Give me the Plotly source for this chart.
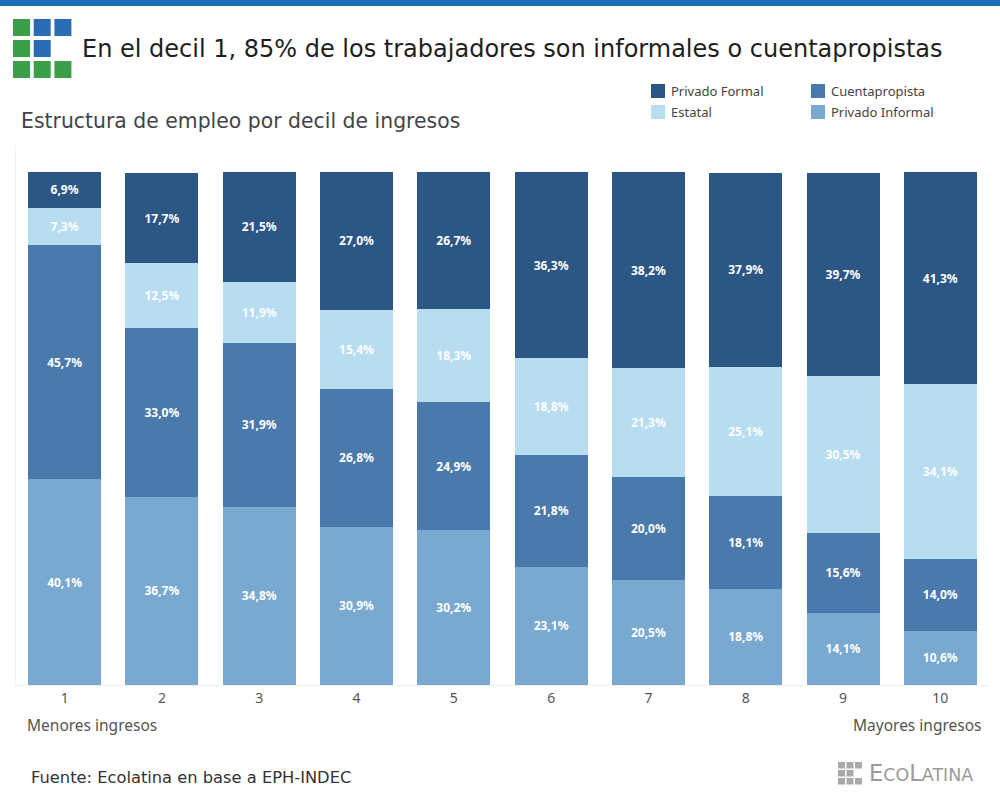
import plotly.graph_objects as go

deciles = ["1", "2", "3", "4", "5", "6", "7", "8", "9", "10"]
privado_informal = [40.1, 36.7, 34.8, 30.9, 30.2, 23.1, 20.5, 18.8, 14.1, 10.6]
cuentapropista = [45.7, 33.0, 31.9, 26.8, 24.9, 21.8, 20.0, 18.1, 15.6, 14.0]
estatal = [7.3, 12.5, 11.9, 15.4, 18.3, 18.8, 21.3, 25.1, 30.5, 34.1]
privado_formal = [6.9, 17.7, 21.5, 27.0, 26.7, 36.3, 38.2, 37.9, 39.7, 41.3]

series = [
    ("Privado Informal", privado_informal, "#79a9d0"),
    ("Cuentapropista", cuentapropista, "#4a7aab"),
    ("Estatal", estatal, "#b8dcf0"),
    ("Privado Formal", privado_formal, "#2c5784"),
]

FONT = "Noto Sans"
WIDE = "DejaVu Sans"

def fmt(v):
    return "<b>" + f"{v:.1f}".replace(".", ",") + "%</b>"

fig = go.Figure()
for name, vals, col in series:
    fig.add_trace(go.Bar(
        x=deciles, y=vals, name=name, marker=dict(color=col, line=dict(width=0)),
        text=[fmt(v) for v in vals], textposition="inside", insidetextanchor="middle",
        textangle=0, textfont=dict(color="white", size=12, family=FONT),
        showlegend=False, hoverinfo="skip",
    ))

fig.update_layout(
    barmode="stack", bargap=0.25,
    width=1000, height=800,
    margin=dict(l=16, r=11, t=145, b=115),
    paper_bgcolor="white", plot_bgcolor="white",
    font=dict(family=FONT, color="#555"),
    uniformtext=dict(minsize=12, mode="show"),
    xaxis=dict(showgrid=False, showline=True, linecolor="#eeeeee", linewidth=1,
               tickfont=dict(size=14, color="#555"), ticks="", fixedrange=True),
    yaxis=dict(range=[0, 105.3], showgrid=False, showticklabels=False, zeroline=False,
               showline=True, linecolor="#f3f3f3", fixedrange=True),
)

W, H = 1000, 800
def px_rect(x0, y0, x1, y1, color):
    return dict(type="rect", xref="paper", yref="paper",
                x0=(x0 - 16) / (W - 27), x1=(x1 - 16) / (W - 27),
                y0=(H - 115 - y1) / (H - 260), y1=(H - 115 - y0) / (H - 260),
                fillcolor=color, line=dict(width=0), layer="above")

shapes = [px_rect(0, 0, 1000, 6, "#1a6fb8")]
green, blue = "#3b9e48", "#2a6db5"
logo = [[green, blue, blue], [green, blue, None], [green, green, green]]
for r, row in enumerate(logo):
    for c, col in enumerate(row):
        if col:
            x0 = 13 + c * 20.7
            y0 = 19 + r * 21
            shapes.append(px_rect(x0, y0, x0 + 17, y0 + 17, col))
leg = [("Privado Formal", "#2c5784", 651, 84), ("Cuentapropista", "#4a7aab", 811, 84),
       ("Estatal", "#b8dcf0", 651, 105), ("Privado Informal", "#79a9d0", 811, 105)]
for name, col, x, y in leg:
    shapes.append(px_rect(x, y, x + 14, y + 14, col))
grey = "#a9a9a9"
glogo = [[1, 1, 1], [1, 1, 0], [1, 1, 1]]
for r, row in enumerate(glogo):
    for c, v in enumerate(row):
        if v:
            x0 = 838 + c * 8.5
            y0 = 762 + r * 8
            shapes.append(px_rect(x0, y0, x0 + 7, y0 + 6.5, grey))
fig.update_layout(shapes=shapes)

def px_ann(text, x, y, size, color, xanchor="left", yanchor="middle", family=FONT, **kw):
    return dict(text=text, xref="paper", yref="paper",
                x=(x - 16) / (W - 27), y=(H - 115 - y) / (H - 260),
                xanchor=xanchor, yanchor=yanchor, showarrow=False,
                font=dict(size=size, color=color, family=family), **kw)

anns = [
    px_ann("En el decil 1, 85% de los trabajadores son informales o cuentapropistas", 80, 49, 24, "#1e1e1e", family=WIDE),
    px_ann("Estructura de empleo por decil de ingresos", 19, 121, 20.4, "#444", family=WIDE),
    px_ann("Menores ingresos", 25, 725, 15.5, "#555"),
    px_ann("Mayores ingresos", 984, 725, 15.5, "#555", xanchor="right"),
    px_ann("Fuente: Ecolatina en base a EPH-INDEC", 29, 777, 16.3, "#333", family=WIDE),
    px_ann("E<span style='font-size:17.5px'>CO</span>L<span style='font-size:17.5px'>ATINA</span>",
           867, 773, 22.5, "#9a9a9a", family=WIDE),
]
for name, col, x, y in leg:
    anns.append(px_ann(name, x + 18, y + 7, 13, "#444"))
fig.update_layout(annotations=anns)

fig.write_html("out.html")
